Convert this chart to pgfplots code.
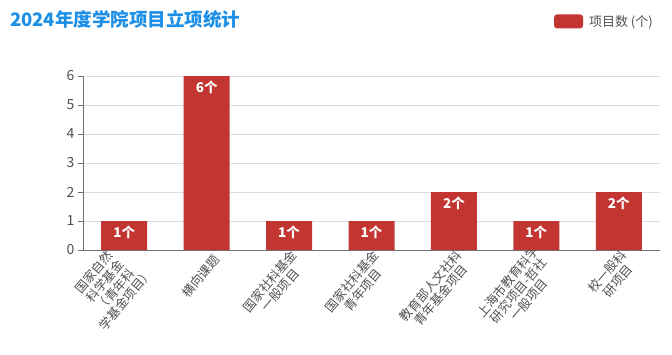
\documentclass[border=0pt]{standalone}
\usepackage{pgfplots}
\pgfplotsset{compat=1.18}
\usepackage{fontspec}
\setmainfont{Noto Sans CJK SC}
\definecolor{barred}{HTML}{C23531}
\definecolor{titleblue}{HTML}{1E8FE6}
\definecolor{gridc}{HTML}{D9DCE3}
\definecolor{axisc}{HTML}{6E7079}
\definecolor{labc}{HTML}{505050}
\begin{document}
\begin{tikzpicture}[x=1pt,y=1pt]
\path[use as bounding box] (0,0) rectangle (672,354);
\node[anchor=west, text=titleblue, font=\fontsize{18.5}{21}\selectfont\bfseries, inner sep=0pt] at (10,335) {2024年度学院项目立项统计};
\begin{axis}[
  at={(83pt,104pt)}, anchor=south west,
  scale only axis, width=577pt, height=174pt,
  xmin=-0.5, xmax=6.5, ymin=0, ymax=6,
  axis x line*=bottom, axis y line*=left,
  axis line style={axisc, line width=0.9pt},
  ytick={0,1,2,3,4,5,6},
  ymajorgrids, major grid style={gridc, line width=0.8pt},
  tick align=outside,
  major tick length=5pt,
  tick style={axisc, line width=0.9pt},
  xtick={0,1,2,3,4,5,6},
  x tick style={draw=none},
  xticklabels={{国家自然\\科学基金\\（青年科\\学基金项目）},{横向课题},{国家社科基金\\一般项目},{国家社科基金\\青年项目},{教育部人文社科\\青年基金项目},{上海市教育科学\\研究项目-哲社\\一般项目},{校一般科\\研项目}},
  xticklabel style={rotate=50, anchor=east, align=center, font=\fontsize{12.5}{14}\selectfont, text=labc, inner sep=1pt, yshift=-9pt, xshift=6pt},
  extra x ticks={-0.5,0.5,1.5,2.5,3.5,4.5,5.5,6.5},
  extra x tick labels={},
  extra x tick style={grid=none, tick style={draw=axisc, line width=0.9pt}, major tick length=5pt, tick align=outside},
  yticklabel style={font=\fontsize{14}{15}\selectfont, text=labc},
  /pgf/number format/assume math mode=true,
  legend style={at={(0.9913,1.362)}, anchor=north east, draw=none, fill=none, font=\fontsize{13}{14}\selectfont, text=labc, inner sep=0pt, legend cell align=left},
  legend image code/.code={\fill[barred, rounded corners=3pt] (-1pt,-7pt) rectangle (28pt,7pt);},
]
\addplot[ybar, bar width=46pt, fill=barred, draw=none,
  nodes near coords={\pgfmathprintnumber{\pgfplotspointmeta}个},
  every node near coord/.append style={anchor=north, yshift=-1pt, text=white, font=\fontsize{13.5}{14}\selectfont\bfseries}]
  coordinates {(0,1) (1,6) (2,1) (3,1) (4,2) (5,1) (6,2)};
\addlegendentry{\hspace{4pt}项目数 (个)}
\end{axis}
\end{tikzpicture}
\end{document}
